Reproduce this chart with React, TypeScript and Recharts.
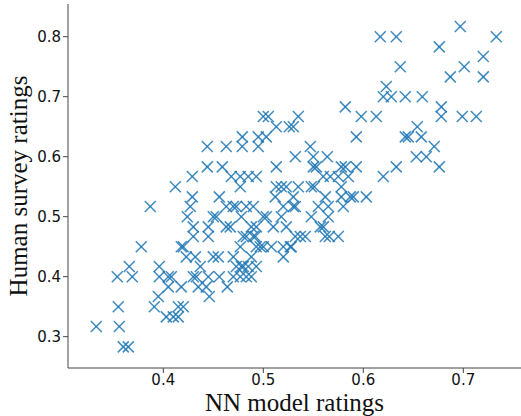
import React from "react";
import { Label, Scatter, ScatterChart, XAxis, YAxis } from "recharts";

// human survey rating levels (top to bottom) and the NN model ratings seen at each level
const surveyLevels = [
  0.817, 0.8, 0.783, 0.767, 0.75, 0.733, 0.717, 0.7, 0.683, 0.667, 0.65, 0.633, 0.617, 0.6, 0.583, 0.567,
  0.55, 0.533, 0.517, 0.5, 0.483, 0.467, 0.45, 0.433, 0.417, 0.4, 0.383, 0.367, 0.35, 0.333, 0.317, 0.283,
];

const nnAtLevel = [
  [0.697],
  [0.617, 0.633, 0.733],
  [0.676],
  [0.72],
  [0.637, 0.701],
  [0.687, 0.72],
  [0.623],
  [0.62, 0.628, 0.642, 0.659],
  [0.582, 0.678],
  [0.5, 0.505, 0.535, 0.598, 0.613, 0.678, 0.699, 0.713],
  [0.513, 0.526, 0.53, 0.654],
  [0.479, 0.495, 0.503, 0.593, 0.642, 0.645, 0.658],
  [0.444, 0.463, 0.479, 0.495, 0.547, 0.671],
  [0.532, 0.55, 0.564, 0.653, 0.663],
  [0.444, 0.459, 0.513, 0.55, 0.553, 0.578, 0.582, 0.593, 0.633, 0.676],
  [0.429, 0.468, 0.477, 0.485, 0.493, 0.56, 0.567, 0.575, 0.585, 0.62],
  [0.412, 0.477, 0.513, 0.518, 0.523, 0.535, 0.548, 0.551, 0.578],
  [0.429, 0.456, 0.512, 0.53, 0.562, 0.578, 0.587, 0.59, 0.603],
  [0.387, 0.427, 0.463, 0.47, 0.473, 0.483, 0.49, 0.52, 0.53, 0.532, 0.555, 0.565, 0.58],
  [0.424, 0.45, 0.453, 0.478, 0.5, 0.503, 0.518, 0.548, 0.565],
  [0.43, 0.445, 0.463, 0.467, 0.488, 0.493, 0.51, 0.523, 0.557, 0.56],
  [0.43, 0.445, 0.48, 0.483, 0.49, 0.492, 0.532, 0.537, 0.542, 0.562, 0.566, 0.575],
  [0.378, 0.418, 0.42, 0.477, 0.493, 0.497, 0.5, 0.508, 0.52, 0.527, 0.528],
  [0.423, 0.432, 0.45, 0.455, 0.47, 0.488, 0.52],
  [0.366, 0.396, 0.437, 0.473, 0.478, 0.48, 0.485, 0.493],
  [0.354, 0.369, 0.396, 0.405, 0.408, 0.43, 0.433, 0.445, 0.456, 0.47, 0.477, 0.483, 0.488],
  [0.405, 0.418, 0.435, 0.443, 0.464],
  [0.395, 0.446],
  [0.355, 0.391, 0.415, 0.42],
  [0.403, 0.41, 0.415],
  [0.333, 0.356],
  [0.36, 0.365],
];

const xTicks = [0.4, 0.5, 0.6, 0.7];
const yTicks = [0.3, 0.4, 0.5, 0.6, 0.7, 0.8];

const points = surveyLevels.flatMap((human, i) => nnAtLevel[i].map((nn) => ({ nn, human })));

const BLUE = "#1f77b4";
const tickStyle = { fontSize: 15, fill: "#111", fontFamily: "DejaVu Sans" };

function Cross(props: any) {
  const { cx, cy } = props;
  const r = 5.5;
  return (
    <g stroke={BLUE} strokeWidth={1.5} strokeOpacity={0.85}>
      <line x1={cx - r} y1={cy - r} x2={cx + r} y2={cy + r} />
      <line x1={cx - r} y1={cy + r} x2={cx + r} y2={cy - r} />
    </g>
  );
}

export default function App() {
  return (
    <div style={{ position: "absolute", left: 0, top: 0, width: 521, height: 416, background: "#fff" }}>
      <ScatterChart width={521} height={416} margin={{ top: 4, right: 0, bottom: 18, left: 20 }}>
        <XAxis
          xAxisId="top"
          orientation="top"
          type="number"
          dataKey="nn"
          domain={[0.3047, 0.7577]}
          allowDataOverflow
          height={0}
          tick={false}
          tickLine={false}
          axisLine={{ stroke: "#444" }}
        />
        <XAxis
          type="number"
          dataKey="nn"
          domain={[0.3047, 0.7577]}
          allowDataOverflow
          ticks={xTicks}
          tickFormatter={(v) => v.toFixed(1)}
          height={30}
          tickSize={5}
          tickMargin={1}
          tick={tickStyle}
          axisLine={{ stroke: "#444" }}
          tickLine={{ stroke: "#444" }}
        >
          <Label
            content={({ viewBox }: any) => (
              <text
                x={viewBox.x + viewBox.width / 2}
                y={411}
                textAnchor="middle"
                fontFamily="Liberation Serif"
                fontSize={25}
                fill="#111"
              >
                NN model ratings
              </text>
            )}
          />
        </XAxis>
        <YAxis
          type="number"
          dataKey="human"
          domain={[0.2478, 0.8545]}
          allowDataOverflow
          ticks={yTicks}
          tickFormatter={(v) => v.toFixed(1)}
          width={48}
          tickSize={5}
          tickMargin={2}
          tick={tickStyle}
          axisLine={{ stroke: "#444" }}
          tickLine={{ stroke: "#444" }}
        >
          <Label
            content={({ viewBox }: any) => {
              const cx = 27;
              const cy = viewBox.y + viewBox.height / 2;
              return (
                <text
                  x={cx}
                  y={cy}
                  transform={`rotate(-90 ${cx} ${cy})`}
                  textAnchor="middle"
                  fontFamily="Liberation Serif"
                  fontSize={25}
                  fill="#111"
                >
                  Human survey ratings
                </text>
              );
            }}
          />
        </YAxis>
        <Scatter data={points} shape={<Cross />} isAnimationActive={false} />
      </ScatterChart>
    </div>
  );
}
